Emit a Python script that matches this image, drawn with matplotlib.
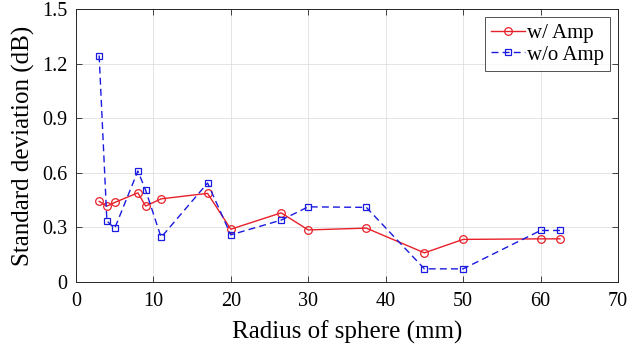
import matplotlib

matplotlib.use("Agg")
import matplotlib.pyplot as plt

radius = [3, 4, 5, 8, 9, 11, 17, 20, 26.5, 30, 37.5, 45, 50, 60, 62.5]
std_amp = [0.443, 0.417, 0.437, 0.49, 0.417, 0.457, 0.487, 0.29, 0.38, 0.286,
           0.296, 0.16, 0.234, 0.237, 0.237]
std_no_amp = [1.245, 0.336, 0.294, 0.61, 0.505, 0.245, 0.544, 0.259, 0.34, 0.413,
              0.41, 0.072, 0.072, 0.283, 0.283]

x_ticks = [0, 10, 20, 30, 40, 50, 60, 70]
y_ticks = [0, 0.3, 0.6, 0.9, 1.2, 1.5]
y_tick_labels = ["0", "0.3", "0.6", "0.9", "1.2", "1.5"]

plt.rcParams["font.family"] = ["Liberation Serif", "DejaVu Serif"]

fig = plt.figure(figsize=(6.38, 3.52), dpi=100)
ax = fig.add_axes([0.119, 0.199, 0.8497, 0.775])

ax.plot(radius, std_amp, color="#e8202a", linestyle="-", linewidth=1.0,
        marker="o", markersize=5.5, markerfacecolor="none", markeredgewidth=0.9,
        label="w/ Amp")
ax.plot(radius, std_no_amp, color="#1a1ae0", linestyle=(0, (5, 3)), linewidth=1.0,
        marker="s", markersize=4, markerfacecolor="none", markeredgewidth=0.9,
        label="w/o Amp")

ax.set_xlim(0, 70)
ax.set_ylim(0, 1.5)
ax.set_xticks(x_ticks)
ax.set_yticks(y_ticks)
ax.set_yticklabels(y_tick_labels)
ax.tick_params(direction="in", top=True, right=True, labelsize=14.5,
               length=4, width=0.6, colors="#262626")
ax.tick_params(axis="x", pad=7)
ax.tick_params(axis="y", pad=6)
ax.tick_params(labelcolor="black")
ax.grid(True, color="#d9d9d9", linewidth=0.5)
for s in ax.spines.values():
    s.set_color("#262626")
    s.set_linewidth(0.7)

ax.set_xlabel("Radius of sphere (mm)", fontsize=18, labelpad=7)
ax.set_ylabel("Standard deviation (dB)", fontsize=18, labelpad=5)

leg = ax.legend(loc="upper right", fontsize=15, frameon=True, fancybox=False,
                handlelength=1.6, handletextpad=0.1, borderpad=0.3,
                labelspacing=0.1, borderaxespad=0.38)
leg.get_frame().set_edgecolor("#262626")
leg.get_frame().set_linewidth(0.7)

fig.savefig("out.png", dpi=100)
